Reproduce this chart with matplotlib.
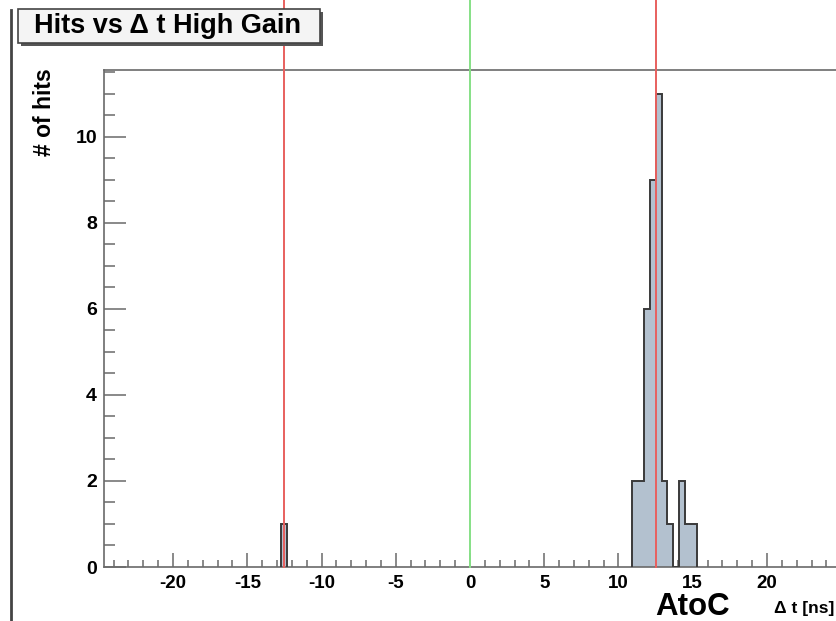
import matplotlib

matplotlib.use("Agg")
import matplotlib.pyplot as plt
from matplotlib.patches import Rectangle
from matplotlib.ticker import MultipleLocator

# Histogram contents (bin width 0.4 ns)
peak_edges = [10.9, 11.3, 11.7, 12.1, 12.5, 12.9, 13.3, 13.7, 14.1, 14.5, 14.9, 15.3]
peak_counts = [2, 2, 6, 9, 11, 2, 1, 0, 2, 1, 1]
lone_edges = [-12.7, -12.3]
lone_counts = [1]

window_lines = [-12.5, 12.5]   # red markers
centre_line = 0.0              # green marker

title = "Hits vs \u0394 t High Gain"
xlabel = "\u0394 t [ns]"
ylabel = "# of hits"
tag = "AtoC"

W, H = 837, 621
FONT = ["Liberation Sans", "DejaVu Sans"]
plt.rcParams["font.family"] = FONT
plt.rcParams["font.weight"] = "bold"
plt.rcParams["axes.unicode_minus"] = False

fill_col = "#b3c1cf"
edge_col = "#3a3a3a"
frame_col = "#6a6a6a"


def fx(px):
    return px / W


def fy(py):
    return 1 - py / H


fig = plt.figure(figsize=(W / 100, H / 100), dpi=100)
ax = fig.add_axes([fx(104), fy(567), fx(836) - fx(104), fy(70) - fy(567)])

for edges, counts in [(peak_edges, peak_counts), (lone_edges, lone_counts)]:
    ax.stairs(counts, edges, fill=True, color=fill_col, zorder=2)
    ax.stairs(counts, edges, baseline=0, color=edge_col, lw=1.4, zorder=3)

# marker lines run up past the frame, to the top of the canvas
top = (567 - 0) / (567 - 70)
for x in window_lines:
    ax.axvline(x, ymin=0, ymax=top, color="#e8605e", lw=1.4, clip_on=False, zorder=4)
ax.axvline(centre_line, ymin=0, ymax=top, color="#86e086", lw=1.4, clip_on=False, zorder=4)

ax.set_xlim(-24.65, 24.65)
ax.set_ylim(0, 11.55)

ax.xaxis.set_major_locator(MultipleLocator(5))
ax.xaxis.set_minor_locator(MultipleLocator(1))
ax.yaxis.set_major_locator(MultipleLocator(2))
ax.yaxis.set_minor_locator(MultipleLocator(0.5))
ax.tick_params(axis="x", which="major", direction="in", length=10, width=1.1,
               color=frame_col, labelsize=13.5, pad=6)
ax.tick_params(axis="x", which="minor", direction="in", length=5, width=1.1, color=frame_col)
ax.tick_params(axis="y", which="major", direction="in", length=16, width=1.1,
               color=frame_col, labelsize=14, pad=5)
ax.tick_params(axis="y", which="minor", direction="in", length=8, width=1.1, color=frame_col)
for lab in ax.get_xticklabels() + ax.get_yticklabels():
    lab.set_fontweight("bold")

for side in ["left", "bottom", "top"]:
    ax.spines[side].set_color(frame_col)
    ax.spines[side].set_linewidth(1.2)
ax.spines["right"].set_visible(False)

# canvas edge on the left
fig.add_artist(plt.Line2D([fx(11), fx(11)], [0, fy(10)], color="#444444", lw=2))

# title box with drop shadow
bx0, bx1, by0, by1 = 18, 320, 9, 43
fig.add_artist(Rectangle((fx(bx0 + 3), fy(by1 + 3)), fx(bx1) - fx(bx0), fy(by0) - fy(by1),
                         transform=fig.transFigure, facecolor="#555555", edgecolor="none", zorder=5))
fig.add_artist(Rectangle((fx(bx0), fy(by1)), fx(bx1) - fx(bx0), fy(by0) - fy(by1),
                         transform=fig.transFigure, facecolor="#f4f4f4", edgecolor="#444444",
                         lw=1.2, zorder=6))
fig.text(fx((bx0 + bx1) / 2 - 1), fy((by0 + by1) / 2), title, ha="center", va="center",
         fontsize=19.5, fontweight="bold", zorder=7)

fig.text(fx(45), fy(68), ylabel, rotation=90, ha="center", va="top", fontsize=16.5,
         fontweight="bold")
fig.text(fx(834), fy(613), xlabel, ha="right", va="baseline", fontsize=12.5, fontweight="bold")
fig.text(fx(693), fy(615), tag, ha="center", va="baseline", fontsize=22.5, fontweight="bold")

fig.savefig("out.png", dpi=100)
